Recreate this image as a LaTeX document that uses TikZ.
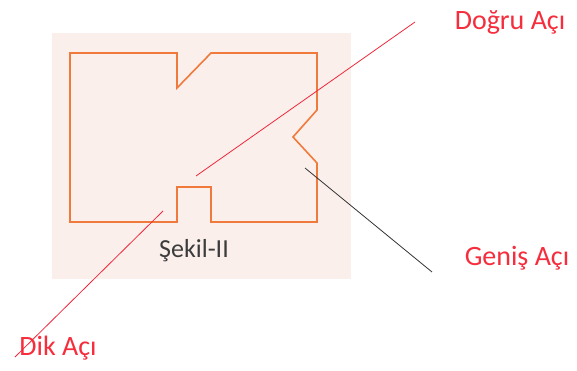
\documentclass[tikz,border=0pt]{standalone}
\usepackage{fontspec}
\setmainfont{Carlito}
\usepackage{xcolor}
\definecolor{kenar}{RGB}{240,122,60}
\definecolor{zemin}{RGB}{251,239,235}
\definecolor{etiket}{RGB}{245,45,60}
\definecolor{cizgi}{RGB}{240,40,60}
\definecolor{yazi}{RGB}{60,60,60}

\begin{document}
\begin{tikzpicture}[x=1pt,y=-1pt]
    \useasboundingbox (0,0) rectangle (577,370);
    \def\xa{70};
    \def\xb{177};
    \def\xc{211};
    \def\xd{317};
    \def\ya{53};
    \def\yb{222};
    \fill[zemin] (52,33) rectangle (351,279);
    \draw[kenar, line width=1.6pt, line join=miter]
        (\xa,\ya) -- (\xb,\ya) -- (\xb,88) -- (\xc,\ya) -- (\xd,\ya)
        -- (\xd,110) -- (293,137) -- (\xd,163) -- (\xd,\yb)
        -- (\xc,\yb) -- (\xc,187) -- (\xb,187) -- (\xb,\yb)
        -- (\xa,\yb) -- cycle;
    \node[text=yazi, font=\fontsize{26}{30}\selectfont] at (194,251) (S) {Şekil-II};
    \node[text=etiket, font=\fontsize{28}{32}\selectfont] at (510,22) (DA) {Doğru Açı};
    \node[text=etiket, font=\fontsize{28}{32}\selectfont] at (517,258) (GA) {Geniş Açı};
    \node[text=etiket, font=\fontsize{28}{32}\selectfont] at (58,348) (KA) {Dik Açı};
    \coordinate (D1) at (196,176);
    \coordinate (D2) at (415,22);
    \coordinate (K1) at (163,211);
    \coordinate (K2) at (15,357);
    \coordinate (G1) at (305,168);
    \coordinate (G2) at (432,272);
    \draw[cizgi, line width=0.8pt] (D1) -- (D2);
    \draw[cizgi, line width=0.8pt] (K1) -- (K2);
    \draw[black!80, line width=0.8pt] (G1) -- (G2);
\end{tikzpicture}
\end{document}
